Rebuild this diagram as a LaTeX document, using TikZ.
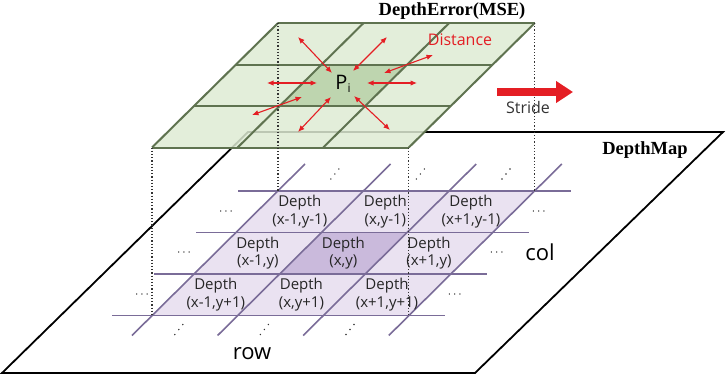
\documentclass[tikz,border=0pt]{standalone}
\usepackage{fontspec}
\setsansfont{Open Sans}
\newfontfamily\titlefont{Liberation Serif}
\usetikzlibrary{math,arrows.meta}

\definecolor{gridgreen}{RGB}{95,115,80}
\definecolor{cellgreen}{RGB}{222,235,211}
\definecolor{midgreen}{RGB}{190,213,175}
\definecolor{gridpurple}{RGB}{122,108,152}
\definecolor{cellpurple}{RGB}{234,226,241}
\definecolor{midpurple}{RGB}{202,186,220}
\definecolor{arrowred}{RGB}{228,30,36}

\tikzset{
  celltext/.style={font=\sffamily\fontsize{15}{17.5}\selectfont, align=center, text=black!85, inner sep=1pt},
  bigtext/.style={font=\sffamily\fontsize{22}{22}\selectfont},
  titletext/.style={font=\titlefont\bfseries\fontsize{18.5}{18.5}\selectfont},
  dotsnode/.style={inner sep=0pt, font=\fontsize{12}{12}\selectfont},
  distarrow/.style={arrowred, line width=1.1pt, {Latex[length=6.5pt,width=5.5pt]}-{Latex[length=6.5pt,width=5.5pt]}},
}

\begin{document}
\begin{tikzpicture}[x=1pt, y=-1pt, font=\sffamily]
  \tikzmath{\gx = 278; \gy = 23; \cw = 85.6; \rh = 41.5; \rs = 42; \dd = 168;}
  \useasboundingbox (0,0) rectangle (728,380);

  % depth map plane
  \draw[line width=1.8pt, line join=miter] (2,373) -- (248,132) -- (723,132) -- (475,373) -- cycle;
  \node[titletext] (depthmap) at (645,150) {DepthMap};

  % depth cells
  \fill[cellpurple] (\gx,\gy+\dd) -- ++(3*\cw,0) -- ++(-3*\rs,3*\rh) -- ++(-3*\cw,0) -- cycle;
  \fill[midpurple] (\gx+\cw-\rs,\gy+\dd+\rh) -- ++(\cw,0) -- ++(-\rs,\rh) -- ++(-\cw,0) -- cycle;
  \foreach \r in {0,1,2,3}
    \draw[gridpurple, line width=1.6pt] (\gx-\r*\rs-40,\gy+\dd+\r*\rh) -- (\gx+3*\cw-\r*\rs+36,\gy+\dd+\r*\rh);
  \foreach \c in {0,1,2,3}
    \draw[gridpurple, line width=1.6pt] (\gx+\c*\cw+27,\gy+\dd-27) -- (\gx+\c*\cw-3*\rs-20,\gy+\dd+3*\rh+20);

  \foreach \r/\yl in {0/y-1,1/y,2/y+1} {
    \foreach \c/\xl in {0/x-1,1/x,2/x+1}
      \node[celltext] (cell\r\c) at (\gx+\c*\cw+0.5*\cw-\r*\rs-0.5*\rs,\gy+\dd+\r*\rh+0.5*\rh) {Depth\\(\xl,\yl)};
    \node[dotsnode] (ldots\r) at (\gx-\r*\rs-0.5*\rs-31,\gy+\dd+\r*\rh+0.5*\rh) {$\cdots$};
    \node[dotsnode] (rdots\r) at (\gx+3*\cw-\r*\rs-0.5*\rs+25,\gy+\dd+\r*\rh+0.5*\rh) {$\cdots$};
  }
  % dots along the columns
  \foreach \c in {0,1,2} {
    \coordinate (tdots\c) at (\gx+\c*\cw+0.5*\cw+14,\gy+\dd-17);
    \coordinate (bdots\c) at (\gx+\c*\cw+0.5*\cw-3*\rs-16,\gy+\dd+3*\rh+14);
    \foreach \k in {-1,0,1} {
      \fill[black!80] ([shift={(4*\k,-5*\k)}]tdots\c) circle (0.8);
      \fill[black!80] ([shift={(4*\k,-5*\k)}]bdots\c) circle (0.8);
    }
  }
  \node[bigtext] (col) at (540,252) {col};
  \node[bigtext] (row) at (252,354) {row};

  % error window
  \fill[cellgreen, fill opacity=0.85] (\gx,\gy) -- ++(3*\cw,0) -- ++(-3*\rs,3*\rh) -- ++(-3*\cw,0) -- cycle;
  \fill[midgreen] (\gx+\cw-\rs,\gy+\rh) -- ++(\cw,0) -- ++(-\rs,\rh) -- ++(-\cw,0) -- cycle;
  \foreach \r in {0,1,2,3}
    \draw[gridgreen, line width=2pt] (\gx-\r*\rs,\gy+\r*\rh) -- ++(3*\cw,0);
  \foreach \c in {0,1,2,3}
    \draw[gridgreen, line width=2pt] (\gx+\c*\cw,\gy) -- ++(-3*\rs,3*\rh);
  \node[titletext] (errtitle) at (452,11) {DepthError(MSE)};

  % projection
  \coordinate (g1) at (\gx,\gy);
  \coordinate (g2) at (\gx+3*\cw,\gy);
  \coordinate (g3) at (\gx-3*\rs,\gy+3*\rh);
  \coordinate (g4) at (\gx+3*\cw-3*\rs,\gy+3*\rh);
  \foreach \i in {1,2,3,4} {
    \coordinate (p\i) at ([yshift=-\dd pt]g\i);
    \draw[dotted, line width=1.2pt, black!80] (g\i) -- (p\i);
  }

  % distances
  \node (pi) at (343,84) {\fontsize{20}{20}\selectfont P\raisebox{-3pt}{\fontsize{12}{12}\selectfont i}};
  \node[text=arrowred, font=\sffamily\fontsize{16}{16}\selectfont] (distance) at (460,40) {Distance};
  \foreach \n/\ox/\oy/\ix/\iy in {1/298/37/332/73, 2/387/37/353/71, 3/433/55/384/73, 4/267/83/317/83,
                                   5/417/83/367/83, 6/252/115/302/97, 7/298/132/331/97, 8/390/130/354/96} {
    \coordinate (o\n) at (\ox,\oy);
    \coordinate (i\n) at (\ix,\iy);
    \draw[distarrow] (o\n) -- (i\n);
  }

  % stride
  \node[font=\sffamily\fontsize{16}{16}\selectfont, text=black!80] (stride) at (528,107) {Stride};
  \coordinate (sa) at (497,92);
  \coordinate (sb) at (573,92);
  \draw[arrowred, line width=8pt, -{Triangle[length=17pt,width=21pt]}] (sa) -- (sb);
\end{tikzpicture}
\end{document}
